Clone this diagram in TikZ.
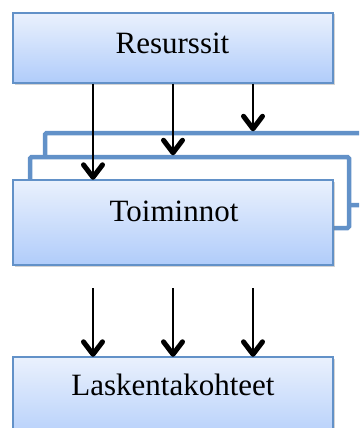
\documentclass[tikz,border=0pt]{standalone}
\usepackage{fontspec}
\setmainfont{Liberation Serif}
\usetikzlibrary{decorations.markings,shadows,calc}
\definecolor{bordblue}{RGB}{98,145,200}
\definecolor{filltop}{RGB}{234,241,253}
\definecolor{fillbot}{RGB}{176,204,250}
\tikzset{
  frontbox/.style={draw=bordblue, line width=1.4pt, top color=filltop, bottom color=fillbot,
    minimum width=320pt, inner sep=0pt, drop shadow={shadow xshift=1.5pt, shadow yshift=-1.5pt, opacity=0.35}},
  stackbox/.style={draw=bordblue, line width=4.5pt, fill=white, rounded corners=1.5pt, inner sep=0pt},
  lbl/.style={anchor=base, inner sep=0pt, font=\fontsize{31}{37}\selectfont},
  arr/.style={line width=2.5pt, postaction={decorate, decoration={markings,
      mark=at position 1 with {\draw[line width=5pt, line cap=round, line join=round]
        (-14.5pt,9.5pt) -- (-2pt,0pt) -- (-14.5pt,-9.5pt);}}}}
}
\begin{document}
\begin{tikzpicture}[x=1pt,y=-1pt]
\useasboundingbox (0,0) rectangle (359,428);
\clip (0,0) rectangle (359,428);
% stacked back boxes
\node[stackbox, minimum width=335pt, minimum height=72pt] (back) at (212.5,169) {};
\node[stackbox, minimum width=319pt, minimum height=71pt] (mid) at (189.5,192.5) {};
% front boxes
\node[frontbox, minimum height=70pt] (res) at (173,48) {};
\node[frontbox, minimum height=85pt] (toi) at (173,222.5) {};
\node[frontbox, minimum height=90pt] (las) at (173,402) {};
% labels
\node[lbl] (rest) at (172.5,53) {Resurssit};
\node[lbl] (toit) at (174,221) {Toiminnot};
\node[lbl] (last) at (173,395) {Laskentakohteet};
% arrows from Resurssit
\draw[arr] ($(res.south)+(-80,0)$) -- ($(toi.north)+(-80,0)$);
\draw[arr] (res.south) -- (res.south |- mid.north);
\draw[arr] ($(res.south)+(80,0)$) -- ($(res.south |- back.north)+(80,0)$);
% arrows into Laskentakohteet
\coordinate (s1) at (93,288);
\coordinate (s2) at (173,288);
\coordinate (s3) at (253,288);
\draw[arr] (s1) -- (s1 |- las.north);
\draw[arr] (s2) -- (s2 |- las.north);
\draw[arr] (s3) -- (s3 |- las.north);
\end{tikzpicture}
\end{document}
